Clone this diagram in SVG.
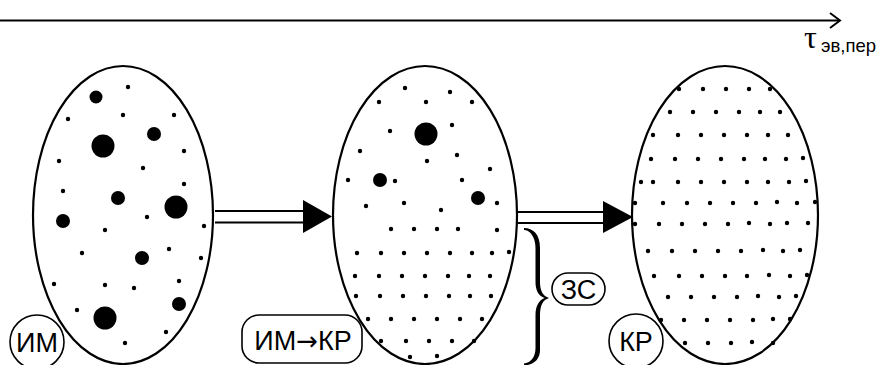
<svg xmlns="http://www.w3.org/2000/svg" width="880" height="365" viewBox="0 0 880 365">
<style>
.ell{fill:#fff;stroke:#000;stroke-width:2.2}
.d{fill:#000}
.ln{stroke:#000;stroke-width:2;fill:none}
.lbl{fill:#fff;stroke:#000;stroke-width:1.6}
.t{font-family:"Liberation Sans",Arial,sans-serif;font-size:27px;fill:#000;text-anchor:middle}
</style>
<rect width="880" height="365" fill="#fff"/>
<g id="axis">
<line class="ln" x1="0" y1="20.5" x2="839" y2="20.5"/>
<polyline class="ln" points="830,13 840,20.5 830,28"/>
<text x="804" y="48" font-family="Liberation Serif,Times New Roman,serif" font-size="32">τ</text>
<text x="821" y="52" font-family="Liberation Sans,Arial,sans-serif" font-size="18.5">эв,пер</text>
</g>
<g id="connectors">
<line class="ln" x1="215" y1="211" x2="305" y2="211"/>
<line class="ln" x1="215" y1="222.5" x2="305" y2="222.5"/>
<polygon points="303,200 332,216.5 303,233" fill="#000"/>
<line class="ln" x1="517" y1="212" x2="605" y2="212"/>
<line class="ln" x1="517" y1="223" x2="605" y2="223"/>
<polygon points="603,201 633,217 603,233" fill="#000"/>
</g>
<g id="node-im">
<ellipse class="ell" cx="123" cy="215" rx="90" ry="149"/>
<circle class="d" cx="96" cy="97" r="6.5"/>
<circle class="d" cx="103" cy="146" r="11.5"/>
<circle class="d" cx="154" cy="134" r="7"/>
<circle class="d" cx="118" cy="198" r="7"/>
<circle class="d" cx="176" cy="207" r="11.5"/>
<circle class="d" cx="63" cy="221" r="7"/>
<circle class="d" cx="142" cy="258" r="7"/>
<circle class="d" cx="179" cy="304" r="7"/>
<circle class="d" cx="105" cy="318" r="11.5"/>
<g class="d">
<circle cx="128" cy="87" r="2.2"/><circle cx="68" cy="119" r="2.2"/><circle cx="123" cy="115" r="2.2"/><circle cx="174" cy="115" r="2.2"/>
<circle cx="184" cy="151" r="2.2"/><circle cx="59" cy="161" r="2.2"/><circle cx="143" cy="168" r="2.2"/><circle cx="184" cy="184" r="2.2"/>
<circle cx="63" cy="191" r="2.2"/><circle cx="147" cy="217" r="2.2"/><circle cx="204" cy="226" r="2.2"/><circle cx="105" cy="230" r="2.2"/>
<circle cx="82" cy="253" r="2.2"/><circle cx="169" cy="249" r="2.2"/><circle cx="201" cy="258" r="2.2"/><circle cx="54" cy="284" r="2.2"/>
<circle cx="105" cy="285" r="2.2"/><circle cx="134" cy="288" r="2.2"/><circle cx="179" cy="281" r="2.2"/><circle cx="77" cy="310" r="2.2"/>
<circle cx="166" cy="332" r="2.2"/><circle cx="125" cy="343" r="2.2"/>
</g>
</g>
<g id="node-mid">
<ellipse class="ell" cx="425" cy="215" rx="92" ry="149"/>
<circle class="d" cx="426" cy="134" r="11.5"/>
<circle class="d" cx="380" cy="180" r="7"/>
<circle class="d" cx="478" cy="198" r="7"/>
<g class="d">
<circle cx="405" cy="88" r="2.2"/><circle cx="450" cy="92" r="2.2"/><circle cx="379" cy="102" r="2.2"/><circle cx="426" cy="102" r="2.2"/><circle cx="472" cy="102" r="2.2"/>
<circle cx="390" cy="131" r="2.2"/><circle cx="452" cy="125" r="2.2"/><circle cx="360" cy="151" r="2.2"/><circle cx="427" cy="161" r="2.2"/><circle cx="457" cy="155" r="2.2"/>
<circle cx="490" cy="169" r="2.2"/><circle cx="348" cy="180" r="2.2"/><circle cx="395" cy="181" r="2.2"/><circle cx="462" cy="180" r="2.2"/>
<circle cx="366" cy="206" r="2.2"/><circle cx="404" cy="203" r="2.2"/><circle cx="441" cy="210" r="2.2"/><circle cx="497" cy="203" r="2.2"/>
<circle cx="391" cy="229" r="2.2"/><circle cx="414" cy="229" r="2.2"/><circle cx="437" cy="229" r="2.2"/><circle cx="458" cy="229" r="2.2"/><circle cx="497" cy="230" r="2.2"/>
<circle cx="357" cy="253" r="2.2"/><circle cx="381" cy="253" r="2.2"/><circle cx="404" cy="253" r="2.2"/><circle cx="427" cy="253" r="2.2"/><circle cx="450" cy="253" r="2.2"/><circle cx="472" cy="253" r="2.2"/><circle cx="492" cy="253" r="2.2"/><circle cx="509" cy="252" r="2.2"/>
<circle cx="355" cy="276" r="2.2"/><circle cx="379" cy="276" r="2.2"/><circle cx="402" cy="276" r="2.2"/><circle cx="425" cy="276" r="2.2"/><circle cx="448" cy="276" r="2.2"/><circle cx="469" cy="276" r="2.2"/><circle cx="490" cy="276" r="2.2"/>
<circle cx="356" cy="296" r="2.2"/><circle cx="380" cy="296" r="2.2"/><circle cx="403" cy="296" r="2.2"/><circle cx="426" cy="296" r="2.2"/><circle cx="449" cy="296" r="2.2"/><circle cx="470" cy="296" r="2.2"/><circle cx="491" cy="296" r="2.2"/>
<circle cx="368" cy="319" r="2.2"/><circle cx="391" cy="319" r="2.2"/><circle cx="414" cy="319" r="2.2"/><circle cx="437" cy="319" r="2.2"/><circle cx="460" cy="319" r="2.2"/><circle cx="482" cy="319" r="2.2"/>
<circle cx="381" cy="341" r="2.2"/><circle cx="406" cy="341" r="2.2"/><circle cx="429" cy="341" r="2.2"/><circle cx="452" cy="341" r="2.2"/><circle cx="474" cy="341" r="2.2"/>
<circle cx="410" cy="357" r="2.2"/><circle cx="437" cy="356" r="2.2"/>
</g>
</g>
<g id="node-kr">
<ellipse class="ell" cx="725" cy="215" rx="93" ry="149"/>
<g class="d">
<circle cx="679" cy="89" r="2.2"/><circle cx="703" cy="89" r="2.2"/><circle cx="726" cy="89" r="2.2"/><circle cx="749" cy="89" r="2.2"/><circle cx="770" cy="89" r="2.2"/>
<circle cx="670" cy="112" r="2.2"/><circle cx="693" cy="112" r="2.2"/><circle cx="716" cy="112" r="2.2"/><circle cx="739" cy="112" r="2.2"/><circle cx="760" cy="112" r="2.2"/><circle cx="780" cy="112" r="2.2"/>
<circle cx="653" cy="135" r="2.2"/><circle cx="678" cy="135" r="2.2"/><circle cx="701" cy="135" r="2.2"/><circle cx="724" cy="135" r="2.2"/><circle cx="747" cy="135" r="2.2"/><circle cx="768" cy="135" r="2.2"/><circle cx="788" cy="135" r="2.2"/>
<circle cx="651" cy="159" r="2.2"/><circle cx="675" cy="159" r="2.2"/><circle cx="698" cy="159" r="2.2"/><circle cx="721" cy="159" r="2.2"/><circle cx="744" cy="159" r="2.2"/><circle cx="765" cy="159" r="2.2"/><circle cx="786" cy="159" r="2.2"/><circle cx="803" cy="158" r="2.2"/>
<circle cx="641" cy="182" r="2.2"/><circle cx="653" cy="182" r="2.2"/><circle cx="678" cy="182" r="2.2"/><circle cx="701" cy="182" r="2.2"/><circle cx="724" cy="182" r="2.2"/><circle cx="747" cy="182" r="2.2"/><circle cx="768" cy="182" r="2.2"/><circle cx="789" cy="182" r="2.2"/><circle cx="806" cy="181" r="2.2"/>
<circle cx="635" cy="203" r="2.2"/><circle cx="663" cy="203" r="2.2"/><circle cx="687" cy="203" r="2.2"/><circle cx="710" cy="203" r="2.2"/><circle cx="733" cy="203" r="2.2"/><circle cx="756" cy="203" r="2.2"/><circle cx="777" cy="202" r="2.2"/><circle cx="797" cy="203" r="2.2"/><circle cx="815" cy="202" r="2.2"/>
<circle cx="635" cy="224" r="2.2"/><circle cx="659" cy="224" r="2.2"/><circle cx="682" cy="224" r="2.2"/><circle cx="705" cy="224" r="2.2"/><circle cx="728" cy="224" r="2.2"/><circle cx="749" cy="223" r="2.2"/><circle cx="770" cy="224" r="2.2"/><circle cx="787" cy="223" r="2.2"/><circle cx="808" cy="223" r="2.2"/>
<circle cx="648" cy="251" r="2.2"/><circle cx="672" cy="251" r="2.2"/><circle cx="695" cy="251" r="2.2"/><circle cx="718" cy="251" r="2.2"/><circle cx="741" cy="251" r="2.2"/><circle cx="763" cy="250" r="2.2"/><circle cx="783" cy="251" r="2.2"/><circle cx="800" cy="250" r="2.2"/>
<circle cx="654" cy="276" r="2.2"/><circle cx="679" cy="276" r="2.2"/><circle cx="702" cy="276" r="2.2"/><circle cx="725" cy="276" r="2.2"/><circle cx="747" cy="276" r="2.2"/><circle cx="769" cy="275" r="2.2"/><circle cx="790" cy="276" r="2.2"/><circle cx="807" cy="275" r="2.2"/>
<circle cx="668" cy="297" r="2.2"/><circle cx="691" cy="297" r="2.2"/><circle cx="714" cy="297" r="2.2"/><circle cx="737" cy="297" r="2.2"/><circle cx="758" cy="296" r="2.2"/><circle cx="779" cy="297" r="2.2"/><circle cx="796" cy="296" r="2.2"/>
<circle cx="661" cy="320" r="2.2"/><circle cx="684" cy="320" r="2.2"/><circle cx="707" cy="320" r="2.2"/><circle cx="730" cy="320" r="2.2"/><circle cx="753" cy="320" r="2.2"/><circle cx="773" cy="319" r="2.2"/><circle cx="790" cy="319" r="2.2"/>
<circle cx="685" cy="343" r="2.2"/><circle cx="708" cy="343" r="2.2"/><circle cx="731" cy="343" r="2.2"/><circle cx="752" cy="342" r="2.2"/><circle cx="773" cy="343" r="2.2"/>
</g>
</g>
<g id="brace">
<path d="M524,228 C533,228 540,234 540,248 L540,282 C540,291 543,296 549,298 C543,300 540,305 540,315 L540,350 C540,360 533,365 524,365.5 L524,363.5 C530,363 535.5,358 535.5,348 L535.5,315 C535.5,306 539,300 544.5,298 C539,296 535.5,291 535.5,282 L535.5,248 C535.5,237 530,230 524,230 Z" fill="#000"/>
</g>
<g id="label-im">
<circle class="lbl" cx="37" cy="342" r="27"/>
<text class="t" x="37" y="351.5">ИМ</text>
</g>
<g id="label-imkr">
<rect class="lbl" x="242" y="315" width="120" height="48" rx="17"/>
<text class="t" x="303" y="350">ИМ<tspan font-family="DejaVu Sans,sans-serif" font-size="26">→</tspan>КР</text>
</g>
<g id="label-zs">
<rect class="lbl" x="552" y="273" width="53" height="32" rx="16"/>
<text class="t" x="578.5" y="298.5">ЗС</text>
</g>
<g id="label-kr">
<circle class="lbl" cx="636" cy="341" r="27"/>
<text class="t" x="636" y="350.5">КР</text>
</g>
</svg>
